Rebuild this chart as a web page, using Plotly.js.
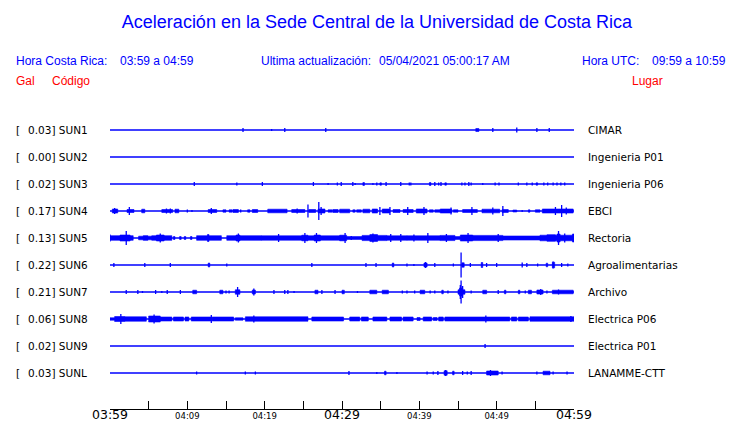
<!DOCTYPE html>
<html>
<head>
<meta charset="utf-8">
<script src="https://cdn.plot.ly/plotly-3.0.1.min.js"></script>
<style>html,body{margin:0;padding:0;background:#fff;}#chart{width:740px;height:423px;}</style>
</head>
<body>
<div id="chart"></div>
<script>
// ---------------- data ----------------
const stations = ['SUN1','SUN2','SUN3','SUN4','SUN5','SUN6','SUN7','SUN8','SUN9','SUNL'];
const peakGal = ['0.03','0.00','0.02','0.17','0.13','0.22','0.21','0.06','0.02','0.03'];
const places = ['CIMAR','Ingenieria P01','Ingenieria P06','EBCI','Rectoria','Agroalimentarias','Archivo','Electrica P06','Electrica P01','LANAMME-CTT'];
const tickMinutes = [0,5,10,15,20,25,30,35,40,45,50,55,60];
const tickLabels = ['03:59','','04:09','','04:19','','04:29','','04:39','','04:49','','04:59'];
const majorLabels = ['03:59','04:29','04:59'];

// events per station: [start minute, end minute, deflection]
const sun1Events = [[17.2,17.2,2],[20.9,20.9,1],[22.6,22.6,2],[27.9,27.9,2],[47.3,47.7,1.5],[49.5,49.5,2],[52.6,52.6,2.5],[55.2,55.2,2],[56.8,56.8,2]];
const sun2Events = [];
const sun3Events = [[10.9,10.9,2],[16.4,16.4,1.5],[19.7,19.7,2],[26.3,26.3,2],[28.2,28.2,1],[29.4,29.4,1.5],[29.9,29.9,2],[31.4,31.4,2],[31.7,31.7,1],[32.7,32.9,1.5],[34.0,34.0,1],[34.5,34.5,1.5],[34.9,35.1,1.2],[35.7,35.7,2],[37.6,37.6,2],[38.7,38.7,1.5],[38.9,38.9,1.5],[41.3,41.5,1.5],[42.0,42.0,2],[42.5,42.5,1.5],[42.8,42.8,2],[43.3,43.5,1.2],[45.5,45.5,1.5],[45.9,45.9,1.5],[46.4,46.4,2],[46.7,46.7,1.5],[48.2,48.2,1],[49.8,49.8,1.5],[50.3,50.3,1.5],[52.8,52.8,1.5],[53.9,53.9,1.5],[54.6,54.6,1.5],[55.1,55.3,1.2],[56.1,56.1,1.5],[56.6,56.6,1.5],[57.3,57.3,1.5],[57.8,57.8,1.5],[58.3,58.3,1.5],[58.8,58.8,1.5]];
const sun4Events = [[0.3,1.0,2],[0.6,0.6,3],[2.2,3.1,1.5],[2.5,2.5,4],[4.1,4.5,1.8],[6.7,8.1,1.5],[7.3,7.3,2.5],[7.8,7.8,2.5],[8.4,8.9,1.8],[10.0,10.0,1.5],[10.6,10.6,1],[12.7,13.8,1.5],[13.1,13.1,3],[14.6,15.0,1.2],[15.4,15.8,1.2],[15.9,16.6,1.5],[16.9,16.9,1.5],[17.8,18.1,1.2],[18.4,19.1,1.5],[20.4,22.9,1.8],[23.5,25.2,1.5],[24.2,24.2,2.5],[25.6,25.6,6.5],[25.7,26.6,1.5],[26.9,27.8,2],[27.0,27.0,9],[27.3,27.3,4],[28.2,28.7,1.2],[28.8,29.5,1.5],[29.7,31.0,1.8],[31.4,31.7,1.2],[31.9,32.5,1.2],[32.7,33.6,1.8],[33.9,34.6,2],[34.9,34.9,4],[35.2,36.2,2],[36.2,36.2,4],[36.6,37.5,1.5],[37.9,39.2,1.5],[38.5,38.5,4],[39.6,41.0,2],[40.6,40.6,4],[41.3,41.8,1.2],[42.0,42.7,1.2],[42.7,44.2,2],[44.1,44.1,3.5],[44.4,45.0,1.2],[45.6,47.5,1.5],[46.8,46.8,4],[48.1,50.4,1.8],[49.5,49.5,3.5],[50.7,51.5,1.5],[50.8,50.8,5],[52.1,52.6,1],[53.3,53.3,1],[54.1,54.3,1.2],[55.0,55.6,1.2],[55.9,59.9,2],[57.6,57.6,4],[58.4,58.4,6],[59.0,59.0,3.5]];
const sun5Events = [[0,3.0,2.3],[0,0,3.5],[1.3,2.6,3],[2.1,2.1,7],[3.7,5.4,1.8],[4.3,4.9,2.3],[5.4,8.0,2.3],[6.0,7.0,3],[6.5,6.5,4.5],[8.2,8.4,1.5],[9.0,9.2,1.5],[9.6,9.8,1.5],[10.4,10.6,1.5],[11.2,14.4,2.3],[12.6,12.8,3.5],[15.1,19.6,2.3],[16.3,16.8,3],[16.6,16.6,4.5],[19.6,30.4,2.2],[21.8,21.8,4],[24.8,25.6,2.8],[25.2,25.2,5],[26.4,27.2,3],[26.7,26.7,5],[29.7,30.6,2.8],[30.4,30.4,5],[30.6,32.6,1.4],[31.2,31.2,2],[32.6,35.8,2.6],[33.6,34.6,3.4],[34.0,34.0,4.5],[35.8,38.4,2.2],[36.3,36.3,4],[37.6,37.6,4],[38.4,41.1,2.2],[39.3,39.3,3.5],[41.1,41.1,5],[41.1,42.7,2.2],[42.7,44.6,2.6],[43.5,43.5,4],[44.6,45.3,1.4],[45.3,46.9,3],[46.3,46.3,5],[46.9,50.8,2.6],[50.2,50.2,4],[50.8,55.6,2],[55.6,60,2.8],[56.5,57.6,3.2],[57.8,58.2,4],[58.0,58.0,7],[58.8,58.8,4.5],[59.8,60,4]];
const sun6Events = [[0.5,0.5,2],[4.5,4.5,2],[7.8,7.8,2],[12.7,12.9,2],[15.1,15.1,1.5],[26.1,26.1,2],[33.1,33.1,2],[34.4,34.4,2],[36.5,36.7,2],[38.4,38.4,1.5],[39.3,39.3,1],[40.6,41.0,2],[40.8,40.8,3],[42.0,42.0,2],[44.4,44.4,1.5],[45.4,45.4,12.5],[45.5,45.8,2.2],[46.6,46.6,2],[48.0,48.2,2.5],[48.7,48.7,2],[50.0,50.0,2],[53.3,53.3,2.5],[53.9,53.9,2],[55.3,55.3,1.5],[56.4,56.6,1.8],[57.2,57.5,2.8],[57.3,57.3,3.5],[58.4,58.4,2],[59.2,59.2,1.5]];
const sun7Events = [[2.1,2.1,2],[3.6,3.6,2],[4.2,4.2,1],[5.9,5.9,2],[6.7,6.7,1],[7.4,7.4,2],[9.1,9.1,2],[10.7,11.2,1.8],[14.2,14.6,1.8],[15.0,15.0,1.5],[15.4,15.4,1.5],[16.2,16.8,2.2],[16.5,16.5,5],[18.4,18.8,2],[18.6,18.6,3.5],[21.2,21.2,2],[22.6,22.6,2],[23.0,23.0,2],[23.8,23.8,1],[26.5,26.9,1.8],[27.4,27.4,2],[29.1,29.1,2],[30.0,30.3,1.8],[32.0,32.0,1],[33.6,34.5,1.8],[35.2,36.0,1.8],[37.8,37.8,1.5],[38.4,38.4,1.5],[39.4,39.4,1.5],[40.1,40.7,1.8],[41.4,41.4,1.5],[42.0,42.0,1.5],[42.9,43.1,1.8],[43.7,43.7,1.5],[45.0,45.9,2.2],[45.2,45.6,4],[45.4,45.4,11.5],[45.3,45.3,7],[45.6,45.6,6],[46.7,46.7,1.5],[48.2,48.7,1.8],[50.2,50.2,2],[51.0,51.2,1.8],[52.8,53.0,1.8],[53.7,53.7,1.5],[54.1,54.5,1.8],[55.2,56.0,2],[55.7,55.7,3],[56.5,56.5,1.5],[57.2,59.9,1.8],[58.0,58.0,2.5]];
const sun8Events = [[0,0.6,1.2],[0.6,1.9,2.5],[1.4,1.4,5],[1.9,4.7,2.2],[5.0,6.5,3],[5.7,5.7,4.5],[6.5,8.0,2],[8.2,9.5,2],[9.7,10.2,2],[10.5,13.1,2],[13.1,13.1,4],[13.2,16.0,2],[16.2,17.2,1.2],[17.5,25.6,2.2],[18.6,18.6,3.5],[26.1,30.2,2],[31.0,32.3,2],[32.5,33.4,2],[34.0,35.8,2],[36.2,37.7,2],[37.9,39.2,2],[39.7,40.1,1.5],[40.5,41.6,2],[41.8,42.3,1.5],[42.5,43.1,2],[43.3,51.7,2],[48.6,48.6,3.5],[51.9,52.6,2],[52.8,54.1,2],[54.3,60,2.2],[59.6,59.6,3]];
const sun9Events = [[48.5,48.5,2]];
const sunLEvents = [[11.2,11.2,1.5],[17.5,17.5,1.5],[18.8,18.8,1.5],[30.9,30.9,2],[34.5,34.5,1],[35.5,35.7,1.8],[37.1,37.1,1],[41.0,41.0,1.5],[41.8,41.8,1.5],[42.4,42.4,2],[43.2,43.6,2.2],[43.4,43.4,3],[44.3,44.5,1.8],[45.6,45.6,2],[46.2,46.2,1.5],[46.7,46.7,2],[48.7,50.2,2],[49.2,49.2,3],[50.7,50.7,1.5],[55.2,55.2,1.5],[56.0,56.9,1.8],[57.3,57.3,1.5],[59.1,59.1,1.5]];
const allEvents = [sun1Events,sun2Events,sun3Events,sun4Events,sun5Events,sun6Events,sun7Events,sun8Events,sun9Events,sunLEvents];

// ---------------- layout helpers ----------------
const W = 740, H = 423;
const PL = 110, PR = 574, PT = 100, PB = 409;
const SPACING = 27;
const BLUE = '#0000ff', RED = '#ff0000';
const px2paperX = p => (p - PL) / (PR - PL);
const px2paperY = p => (PB - p) / (PB - PT);

const traces = [];
stations.forEach((s, k) => {
  const y0 = -SPACING * k;
  const bx = [], by = [], sx = [], sy = [];
  allEvents[k].forEach(([t0, t1, a]) => {
    if (t1 > t0) {
      bx.push(t0, t1, t1, t0, t0, null);
      by.push(y0 - a, y0 - a, y0 + a, y0 + a, y0 - a, null);
    } else {
      sx.push(t0, t0, null);
      sy.push(y0 - a, y0 + a, null);
    }
  });
  traces.push({x:[0,60], y:[y0,y0], type:'scatter', mode:'lines',
    line:{color:BLUE, width:1.5}, hoverinfo:'skip', showlegend:false, name:s});
  if (bx.length) traces.push({x:bx, y:by, type:'scatter', mode:'lines', fill:'toself', fillcolor:BLUE,
    line:{color:BLUE, width:0.6}, hoverinfo:'skip', showlegend:false, name:s + ' bursts'});
  if (sx.length) traces.push({x:sx, y:sy, type:'scatter', mode:'lines',
    line:{color:BLUE, width:1.3}, hoverinfo:'skip', showlegend:false, name:s + ' spikes'});
});

const annotations = [];
function ann(px, py, text, color, size, family, anchor, yref, yval) {
  annotations.push({xref:'paper', x:px2paperX(px), yref: yref || 'paper', y: yref ? yval : px2paperY(py),
    text, showarrow:false, xanchor: anchor || 'left', yanchor:'middle',
    font:{family: family || 'Liberation Sans, Arial, sans-serif', size, color}});
}
const HF = 'Liberation Sans, Arial, sans-serif';
const DF = 'DejaVu Sans, sans-serif';
ann(13.5, 61, 'Hora Costa Rica:', BLUE, 12, HF);
ann(118, 61, '03:59 a 04:59', BLUE, 12, HF);
ann(259, 61, 'Ultima actualización:', BLUE, 12, HF);
ann(377, 61, '05/04/2021 05:00:17 AM', BLUE, 12, HF);
ann(580, 61, 'Hora UTC:', BLUE, 12, HF);
ann(650, 61, '09:59 a 10:59', BLUE, 12, HF);
ann(13.5, 81, 'Gal', RED, 12, HF);
ann(49.5, 81, 'Código', RED, 12, HF);
ann(629.5, 81, 'Lugar', RED, 12, HF);
stations.forEach((s, k) => {
  const y0 = -SPACING * k;
  ann(13.5, 0, '[', '#000', 10.5, DF, 'left', 'y', y0);
  ann(26.2, 0, peakGal[k] + '] ' + s, '#000', 10.5, DF, 'left', 'y', y0);
  ann(585.5, 0, places[k], '#000', 10.5, DF, 'left', 'y', y0);
});

const tickText = tickLabels.map(t => (t === '' || majorLabels.includes(t)) ? t : '<span style="font-size:8.5px">' + t + '</span>');

const layout = {
  width: W, height: H,
  margin:{l:PL, r:W-PR, t:PT, b:H-PB, pad:0},
  paper_bgcolor:'#fff', plot_bgcolor:'#fff',
  showlegend:false,
  title:{text:'Aceleración en la Sede Central de la Universidad de Costa Rica',
    font:{family:HF, size:18, color:BLUE}, x:377/W, xanchor:'center', xref:'container',
    y:1-22/H, yanchor:'middle', yref:'container'},
  xaxis:{range:[0,60], showgrid:false, zeroline:false, showline:true, linecolor:'#000', linewidth:1,
    ticks:'inside', ticklen:8, tickwidth:1, tickcolor:'#000',
    tickmode:'array', tickvals:tickMinutes, ticktext:tickText, ticklabelstandoff:-6,
    tickfont:{family:DF, size:12.5, color:'#000'}, fixedrange:true},
  yaxis:{range:[30-(PB-PT), 30], visible:false, fixedrange:true},
  annotations
};
Plotly.newPlot('chart', traces, layout, {staticPlot:true, displayModeBar:false});
</script>
</body>
</html>
